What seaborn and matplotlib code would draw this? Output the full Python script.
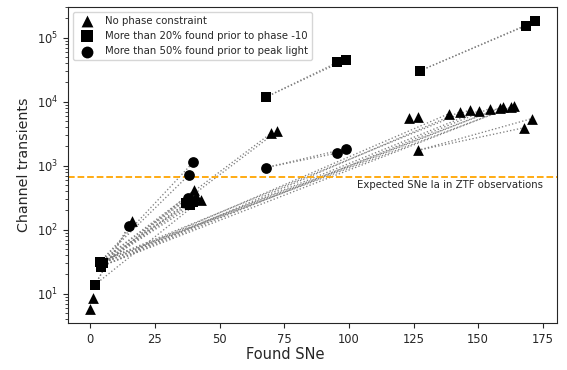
import numpy as np
import pandas as pd
import matplotlib
matplotlib.use("Agg")
import matplotlib.pyplot as plt
import seaborn as sns

sns.set_style("ticks")
plt.rcParams['font.family'] = ['DejaVu Sans']

# ---- data: points per condition ----
tri_x = [0.0, 1.2, 16.0, 40.3, 42.9, 41.0, 70.0, 72.2, 123.4, 126.6, 126.6,
         138.8, 143.0, 147.0, 150.3, 154.4, 158.3, 159.4, 162.8, 163.7, 167.6, 170.8]
tri_y = [5.85, 8.57, 138, 419, 293, 330, 3230, 3430, 5580, 5780, 1730,
         6510, 6920, 7510, 7170, 7780, 7970, 8270, 8270, 8450, 3900, 5440]

sq_x = [1.8, 3.9, 4.8, 4.1, 37.0, 38.4, 39.7, 67.8, 95.5, 98.8, 127.5, 168.6, 171.8]
sq_y = [13.8, 31.8, 30.0, 26.6, 260, 245, 275, 11700, 41000, 45000, 30300, 154000, 179000]

ci_x = [15.1, 37.7, 38.5, 38.0, 39.9, 67.8, 95.5, 98.8]
ci_y = [115, 311, 290, 707, 1140, 930, 1575, 1840]

labels = ["No phase constraint",
          "More than 20% found prior to phase -10",
          "More than 50% found prior to peak light"]

# ---- data: connecting segments (start -> end) ----
seg_x0 = [4.1, 4.8, 3.9, 4.1, 4.8, 3.9, 4.8,
          4.8, 4.1, 3.9, 4.8, 4.1, 3.9, 4.8, 4.1, 3.9,
          3.9, 4.8, 3.9, 3.9,
          1.8, 1.8, 1.8,
          67.8, 67.8, 127.5, 127.5, 67.8, 67.8, 126.6, 126.6]
seg_y0 = [26.6, 30.0, 31.8, 26.6, 30.0, 31.8, 30.0,
          30.0, 26.6, 31.8, 30.0, 26.6, 31.8, 30.0, 26.6, 31.8,
          31.8, 30.0, 31.8, 31.8,
          13.8, 13.8, 13.8,
          11700, 11700, 30300, 30300, 930, 930, 1730, 1730]
seg_x1 = [37.0, 38.4, 37.7, 40.3, 42.9, 39.7, 41.0,
          138.8, 143.0, 147.0, 150.3, 154.4, 158.3, 159.4, 162.8, 163.7,
          70.0, 72.2, 39.9, 38.0,
          15.1, 16.0, 42.9,
          95.5, 98.8, 168.6, 171.8, 95.5, 98.8, 167.6, 170.8]
seg_y1 = [260, 245, 311, 419, 293, 275, 330,
          6510, 6920, 7510, 7170, 7780, 7970, 8270, 8270, 8450,
          3230, 3430, 1140, 707,
          115, 138, 293,
          41000, 45000, 154000, 179000, 1575, 1840, 3900, 5440]

expected_ia = 675
expected_label = "Expected SNe Ia in ZTF observations"

# ---- build tables ----
segs = pd.DataFrame({
    "seg": np.repeat(np.arange(len(seg_x0)), 2),
    "x": np.column_stack([seg_x0, seg_x1]).ravel(),
    "y": np.column_stack([seg_y0, seg_y1]).ravel(),
})

fig = plt.figure(figsize=(5.67, 3.70), dpi=100)
ax = fig.add_axes([0.12, 0.127, 0.862, 0.854])

sns.lineplot(data=segs, x="x", y="y", units="seg", estimator=None, sort=False,
             color="gray", linestyle=":", linewidth=0.95, ax=ax, zorder=1)

for xs, ys, m, lab in [(tri_x, tri_y, "^", labels[0]),
                       (sq_x, sq_y, "s", labels[1]),
                       (ci_x, ci_y, "o", labels[2])]:
    sns.scatterplot(x=xs, y=ys, marker=m, color="black", s=60, linewidth=0,
                    ax=ax, zorder=3, label=lab)

ax.set_yscale("log")
ax.axhline(expected_ia, color="orange", linestyle="--", linewidth=1.3, zorder=2)
ax.text(175, expected_ia * 0.9, expected_label, ha="right", va="top", fontsize=7.25)

ax.set_xticks([0, 25, 50, 75, 100, 125, 150, 175])
ax.set_xlabel("Found SNe", fontsize=10.5)
ax.set_ylabel("Channel transients", fontsize=10.3)
ax.xaxis.set_label_coords(0.444, -0.075)
ax.tick_params(labelsize=8.3)

h, l = ax.get_legend_handles_labels()
ax.legend(h, l, loc="upper left", fontsize=7.25, frameon=True, markerscale=1.1)

fig.savefig("out.png", dpi=100)
